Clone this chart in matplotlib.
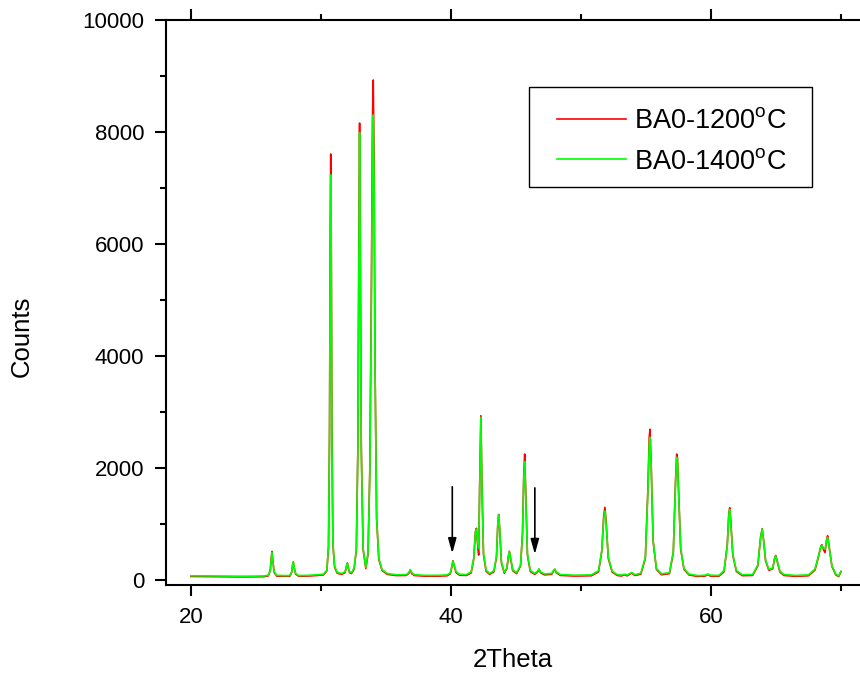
import matplotlib
matplotlib.use('Agg')
import matplotlib.pyplot as plt
from matplotlib.patches import Rectangle
from matplotlib.ticker import MultipleLocator

plt.rcParams['font.family'] = ['Liberation Sans', 'DejaVu Sans']
plt.rcParams['mathtext.fontset'] = 'custom'
plt.rcParams['mathtext.rm'] = 'Liberation Sans'
plt.rcParams['mathtext.it'] = 'Liberation Sans:italic'

# 2theta positions (both scans share them)
two_theta = [
    20.0, 20.8, 21.6, 22.4, 23.2, 24.0, 24.8, 25.6, 25.95,
    26.1, 26.18, 26.23, 26.3, 26.4, 26.6, 27.3,
    27.6, 27.75, 27.82, 27.87, 27.93, 28.05, 28.3, 29.0, 29.7, 30.2,
    30.45, 30.58, 30.66, 30.71, 30.75, 30.79, 30.84, 30.92, 31.05, 31.25, 31.6,
    31.85, 31.96, 32.03, 32.1, 32.2, 32.35,
    32.55, 32.72, 32.84, 32.92, 32.97, 33.02, 33.1, 33.24, 33.45,
    33.62, 33.76, 33.88, 33.96, 34.02, 34.08, 34.16, 34.28, 34.45, 34.7, 35.1, 35.8,
    36.55, 36.75, 36.87, 36.98, 37.2, 38.0, 39.0, 39.7,
    39.95, 40.07, 40.15, 40.24, 40.38, 40.65, 41.2,
    41.55, 41.75, 41.88, 41.96, 42.04, 42.13, 42.21, 42.3, 42.38, 42.5, 42.7, 42.98,
    43.3, 43.5, 43.6, 43.67, 43.75, 43.88, 44.1,
    44.3, 44.42, 44.49, 44.58, 44.75, 45.05,
    45.35, 45.5, 45.6, 45.67, 45.75, 45.88, 46.1, 46.45,
    46.65, 46.77, 46.88, 47.2,
    47.75, 47.9, 47.99, 48.1, 48.4, 49.5, 50.8,
    51.35, 51.6, 51.75, 51.84, 51.93, 52.1, 52.4, 52.8, 53.1, 53.35, 53.55, 53.9, 54.15, 54.6,
    54.95, 55.15, 55.25, 55.31, 55.4, 55.55, 55.8, 56.2, 56.8,
    57.1, 57.27, 57.36, 57.42, 57.52, 57.67, 57.92, 58.3, 59.0, 59.55, 59.75, 59.95, 60.6,
    61.0, 61.25, 61.37, 61.44, 61.52, 61.68, 61.95, 62.4, 63.2,
    63.6, 63.82, 63.94, 64.05, 64.2, 64.45,
    64.75, 64.9, 64.98, 65.1, 65.3, 65.6, 66.5, 67.5,
    68.0, 68.25, 68.45, 68.53, 68.65, 68.77, 68.9, 68.97, 69.1, 69.3, 69.6, 69.82, 70.0,
]

# BA0 fired at 1200 C (red)
counts_1200 = [
    58, 56, 54, 52, 51, 50, 51, 54, 68,
    165, 390, 505, 335, 130, 64, 60,
    62, 130, 265, 318, 225, 100, 61, 65, 75, 86,
    155, 580, 2700, 6100, 7606, 6100, 2700, 620, 220, 115, 95,
    125, 230, 300, 210, 125, 110,
    190, 530, 2400, 6200, 8158, 6200, 2400, 540, 200,
    460, 2000, 5300, 8200, 8928, 7600, 3800, 1100, 360, 165, 95, 74,
    76, 110, 172, 108, 74, 63, 63, 70,
    105, 235, 340, 260, 130, 80, 76,
    120, 370, 860, 918, 650, 440, 1750, 2930, 1700, 450, 150, 95,
    140, 400, 990, 1165, 880, 300, 115,
    195, 420, 508, 385, 160, 108,
    245, 820, 1900, 2245, 1560, 440, 145, 96,
    135, 186, 125, 86,
    96, 160, 184, 125, 77, 65, 70,
    140, 510, 1150, 1293, 1050, 380, 135, 75, 66, 88, 68, 118, 75, 98,
    380, 1650, 2550, 2687, 2050, 680, 185, 88, 108,
    480, 1760, 2245, 2180, 1500, 540, 185, 85, 57, 65, 92, 65, 61,
    140, 620, 1180, 1287, 1050, 430, 148, 72, 76,
    245, 770, 912, 690, 335, 168,
    195, 395, 432, 318, 138, 76, 60, 70,
    172, 395, 600, 625, 535, 485, 730, 785, 565, 238, 85, 55, 145,
]

# BA0 fired at 1400 C (green)
counts_1400 = [
    70, 68, 66, 64, 63, 62, 63, 66, 80,
    170, 380, 490, 330, 140, 78, 72,
    75, 140, 260, 310, 230, 110, 74, 78, 88, 100,
    170, 600, 2600, 5800, 7231, 5800, 2600, 650, 240, 130, 110,
    140, 240, 293, 220, 140, 125,
    210, 550, 2300, 6000, 7987, 6000, 2300, 560, 220,
    480, 1900, 5000, 7700, 8303, 7200, 3700, 1100, 380, 180, 110, 88,
    90, 125, 180, 125, 88, 78, 78, 85,
    120, 240, 334, 270, 150, 96, 92,
    140, 380, 840, 900, 700, 560, 1700, 2900, 1700, 480, 170, 110,
    160, 420, 980, 1156, 900, 320, 130,
    210, 430, 500, 400, 175, 125,
    260, 800, 1800, 2110, 1500, 460, 165, 112,
    150, 192, 140, 102,
    112, 170, 190, 140, 92, 80, 86,
    160, 520, 1100, 1227, 1000, 400, 150, 90, 82, 98, 82, 128, 90, 115,
    400, 1600, 2400, 2544, 2000, 700, 200, 105, 125,
    500, 1700, 2186, 2120, 1450, 560, 200, 100, 72, 80, 100, 80, 76,
    160, 600, 1150, 1258, 1000, 450, 165, 88, 92,
    260, 760, 905, 700, 350, 185,
    210, 385, 423, 330, 155, 92, 76, 86,
    190, 410, 590, 615, 560, 545, 710, 757, 560, 250, 100, 66, 150,
]

series_labels = ['BA0-1200$^{\\mathrm{o}}$C', 'BA0-1400$^{\\mathrm{o}}$C']

# arrows marking the extra reflections
arrow_x = [40.1, 46.45]
arrow_tip = [470, 455]
arrow_tail = [1660, 1640]

fig = plt.figure(figsize=(8.6, 6.73), dpi=100)
ax = fig.add_axes([166 / 860, 88 / 673, 694 / 860, 565 / 673])

ax.plot(two_theta, counts_1200, color='#ff0000', lw=1.2, label=series_labels[0])
ax.plot(two_theta, counts_1400, color='#00ff00', lw=1.2, label=series_labels[1])

for x, y0, y1 in zip(arrow_x, arrow_tip, arrow_tail):
    ax.annotate('', xy=(x, y0), xytext=(x, y1),
                arrowprops=dict(arrowstyle='-|>,head_length=0.9,head_width=0.25',
                                color='black', lw=1.2, mutation_scale=10,
                                shrinkA=0, shrinkB=0))

ax.set_xlim(18.08, 71.46)
ax.set_ylim(-95, 10000)
ax.xaxis.set_major_locator(MultipleLocator(20))
ax.xaxis.set_minor_locator(MultipleLocator(10))
ax.yaxis.set_major_locator(MultipleLocator(2000))
ax.yaxis.set_minor_locator(MultipleLocator(1000))

ax.spines['right'].set_visible(False)
for s in ['left', 'bottom', 'top']:
    ax.spines[s].set_linewidth(1.5)

ax.tick_params(which='both', direction='out', top=True, right=False,
               labeltop=False, width=1.5)
ax.tick_params(which='major', length=8, labelsize=16, pad=7.5)
ax.tick_params(which='minor', length=4)

ax.set_xlabel('2Theta', fontsize=18.5)
ax.set_ylabel('Counts', fontsize=18.5)
ax.xaxis.set_label_coords(0.5, -0.112)
ax.yaxis.set_label_coords(-0.19, 0.44)

# legend entries without frame, box drawn separately (Origin-like padding)
leg = ax.legend(loc='upper left', bbox_to_anchor=(557 / 860, 1 - 108 / 673),
                bbox_transform=fig.transFigure, fontsize=19.5, frameon=False,
                handlelength=2.55, handletextpad=0.3, borderpad=0,
                labelspacing=0.55, borderaxespad=0)
fig.patches.append(Rectangle((529 / 860, 1 - 187 / 673), 283 / 860, 100 / 673,
                             transform=fig.transFigure, fill=False,
                             edgecolor='black', linewidth=1.0))

fig.savefig('out.png', dpi=100)
